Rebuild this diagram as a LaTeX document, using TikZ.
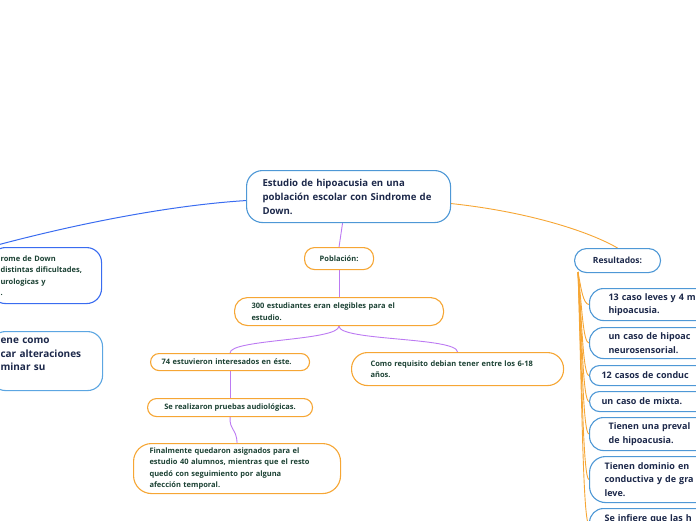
\documentclass[tikz,border=0pt]{standalone}
\usepackage{fontspec}
\setmainfont{Open Sans}
\usetikzlibrary{backgrounds}
\definecolor{navy}{RGB}{28,40,74}
\definecolor{dgreen}{RGB}{28,66,52}
\definecolor{rblue}{RGB}{78,152,214}
\definecolor{bblue}{RGB}{58,108,240}
\definecolor{lblue}{RGB}{92,166,226}
\definecolor{orng}{RGB}{246,166,52}
\definecolor{purp}{RGB}{188,122,242}
\begin{document}
\begin{tikzpicture}[x=1pt,y=-1pt,
  bx/.style={draw=#1, fill=white, line width=1.1pt, inner ysep=0pt, align=left, anchor=north west},
  rootf/.style={font=\fontsize{9.6}{14}\selectfont\bfseries, text=navy},
  leaff/.style={font=\fontsize{7.5}{11.3}\selectfont\bfseries, text=dgreen},
  lbf/.style={font=\fontsize{10}{13.5}\selectfont\bfseries, text=navy},
  resf/.style={font=\fontsize{8.5}{12}\selectfont\bfseries, text=navy},
  rf/.style={font=\fontsize{9}{13.5}\selectfont\bfseries, text=navy},
  bcon/.style={draw=bblue, line width=1pt},
  pcon/.style={draw=purp, line width=0.9pt},
  ocon/.style={draw=orng, line width=0.9pt}]
\useasboundingbox (0,0) rectangle (696,520);

% root
\node[bx=rblue, rounded corners=16pt, minimum height=52pt, inner xsep=16pt, text width=172pt, rootf] (root) at (246,170) {\mbox{Estudio de hipoacusia en una}\\\mbox{población escolar con Sindrome de}\\\mbox{Down.}};

% left boxes
\node[bx=bblue, rounded corners=15pt, minimum height=56pt, inner xsep=10pt, text width=91pt, leaff] (lb1) at (-10,247) {rome de Down\\distintas dificultades,\\urologicas y\\.};
\node[bx=lblue, rounded corners=15pt, minimum height=59pt, inner xsep=10pt, text width=92pt, lbf] (lb2) at (-10,331) {ene como\\car alteraciones\\minar su\\\mbox{}};

% poblacion branch
\node[bx=orng, rounded corners=10pt, minimum width=69pt, minimum height=22pt, align=center, leaff] (pop) at (304,247) {Población:};
\node[bx=orng, rounded corners=13pt, minimum height=28pt, inner xsep=17pt, text width=175pt, leaff] (e300) at (234,297) {300 estudiantes eran elegibles para el\\estudio.};
\node[bx=orng, rounded corners=8.5pt, minimum height=17pt, inner xsep=11pt, text width=137pt, leaff] (e74) at (150,353) {74 estuvieron interesados en éste.};
\node[bx=orng, rounded corners=9pt, minimum width=165pt, minimum height=18pt, align=center, leaff] (sr) at (147,398) {Se realizaron pruebas audiológicas.};
\node[bx=orng, rounded corners=18pt, minimum height=50pt, inner xsep=16pt, text width=175pt, leaff] (fin) at (133,443) {Finalmente quedaron asignados para el\\estudio 40 alumnos, mientras que el resto\\quedó con seguimiento por alguna\\afección temporal.};
\node[bx=orng, rounded corners=16pt, minimum height=33pt, inner xsep=19pt, text width=174pt, leaff] (como) at (351,352) {Como requisito debian tener entre los 6-18\\años.};

% resultados branch
\node[bx=rblue, rounded corners=12pt, minimum width=86pt, minimum height=24pt, align=center, resf] (res) at (574,248) {Resultados:};
\node[bx=rblue, rounded corners=14pt, minimum height=32pt, inner xsep=19pt, text width=150pt, rf] (r1) at (589,288) {13 caso leves y 4 m\\hipoacusia.};
\node[bx=rblue, rounded corners=14pt, minimum height=31pt, inner xsep=19pt, text width=150pt, rf] (r2) at (589,327) {un caso de hipoac\\neurosensorial.};
\node[bx=rblue, rounded corners=10pt, minimum height=20pt, inner xsep=12pt, text width=150pt, rf] (r3) at (589,365) {12 casos de conduc};
\node[bx=rblue, rounded corners=10pt, minimum height=20pt, inner xsep=12pt, text width=150pt, rf] (r4) at (589,391) {un caso de mixta.};
\node[bx=rblue, rounded corners=14pt, minimum height=33pt, inner xsep=19pt, text width=150pt, rf] (r5) at (589,417) {Tienen una preval\\de hipoacusia.};
\node[bx=rblue, rounded corners=16pt, minimum height=46pt, inner xsep=15pt, text width=150pt, rf] (r6) at (589,456) {Tienen dominio en\\conductiva y de gra\\leve.};
\node[bx=rblue, rounded corners=14pt, minimum height=31.5pt, inner xsep=15pt, text width=150pt, rf] (r7) at (589,508) {Se infiere que las h\\\mbox{}};

\begin{pgfonlayer}{background}
\draw[bcon] ([yshift=-4pt]root.west) .. controls (160,206) and (60,228) .. (lb1.north west);
\draw[pcon] ([xshift=-6pt]root.south) -- (pop.north);
\draw[pcon] (pop.south) -- (e300.north);
\draw[pcon] (e300.south) .. controls (338.5,341) and (229.5,339) .. (e74.north);
\draw[pcon] (e300.south) .. controls (338.5,341) and (457,337) .. (como.north);
\draw[pcon] (e74.south) -- (sr.north);
\draw[pcon] (sr.south) .. controls (229.5,431) and (236.5,428) .. (fin.north);
\draw[ocon] ([yshift=-7pt]root.east) .. controls (530,212) and (590,232) .. (res.north);
\coordinate (rs) at (578,272);
\draw[ocon] (rs) .. controls (581,288) and (583,304) .. (r1.west);
\draw[ocon] (rs) .. controls (582,307) and (583,342.5) .. (r2.west);
\draw[ocon] (rs) .. controls (582,323) and (583,375) .. (r3.west);
\draw[ocon] (rs) .. controls (582,336) and (583,401) .. (r4.west);
\draw[ocon] (rs) .. controls (582,352) and (583,433.5) .. (r5.west);
\draw[ocon] (rs) .. controls (582,375) and (583,479) .. (r6.west);
\draw[ocon] (rs) .. controls (582,398) and (583,523.75) .. (r7.west);
\end{pgfonlayer}
\end{tikzpicture}
\end{document}
